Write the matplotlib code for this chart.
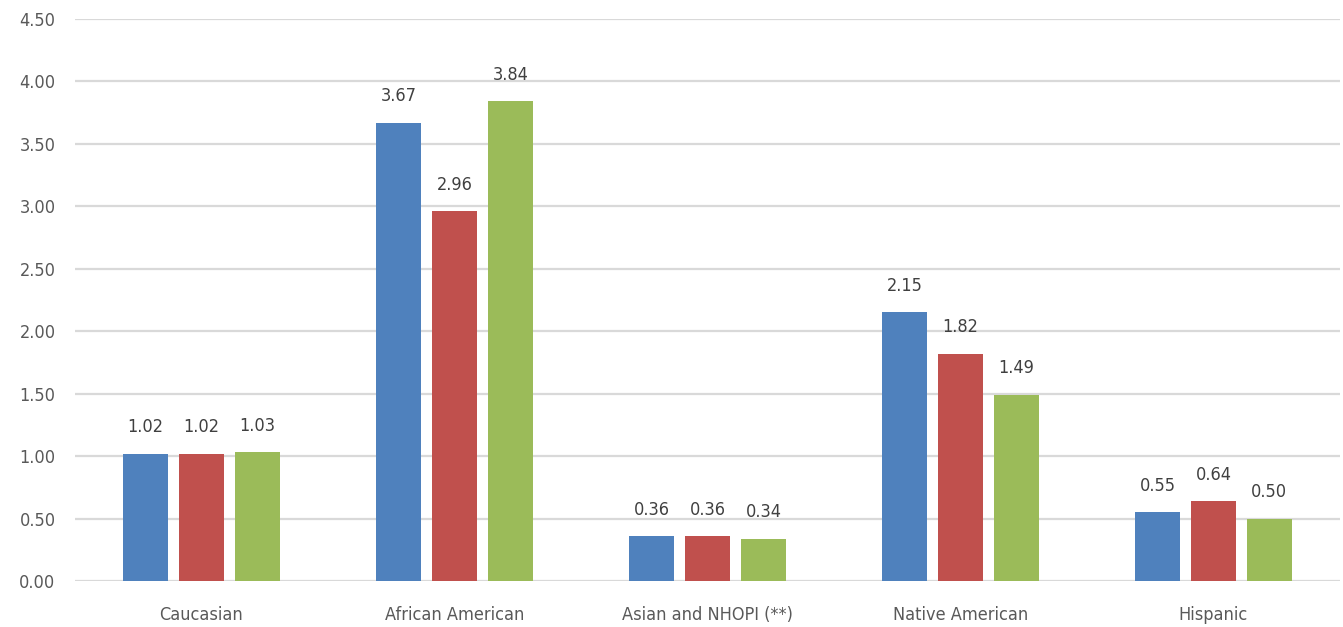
import numpy as np
import matplotlib.pyplot as plt

# Rates by group, three series each
groups = ['Caucasian', 'African American', 'Asian and NHOPI (**)', 'Native American', 'Hispanic']
series_a = [1.02, 3.67, 0.36, 2.15, 0.55]
series_b = [1.02, 2.96, 0.36, 1.82, 0.64]
series_c = [1.03, 3.84, 0.34, 1.49, 0.50]
colors = ['#4F81BD', '#C0504D', '#9BBB59']

plt.rcParams['font.family'] = ['DejaVu Sans']
plt.rcParams['font.stretch'] = 'condensed'

fig = plt.figure(figsize=(13.43, 6.27), dpi=100)
ax = fig.add_axes([75 / 1343, 1 - 581 / 627, 1265 / 1343, 562 / 627])

x = np.arange(len(groups))
width = 0.178
step = 0.221
for i, (vals, col) in enumerate(zip([series_a, series_b, series_c], colors)):
    pos = x + (i - 1) * step
    ax.bar(pos, vals, width, color=col, zorder=3)
    for px, v in zip(pos, vals):
        ax.text(px, v + 0.14, f'{v:.2f}', ha='center', va='bottom',
                fontsize=13, color='#404040')

ax.set_xlim(-0.5, len(groups) - 0.5)
ax.set_ylim(0, 4.5)
ax.set_yticks(np.arange(0, 4.51, 0.5))
ax.set_yticklabels([f'{t:.2f}' for t in np.arange(0, 4.51, 0.5)])
ax.set_xticks(x)
ax.set_xticklabels(groups)
ax.tick_params(axis='both', length=0, labelsize=13, labelcolor='#595959')
ax.tick_params(axis='y', pad=14)
ax.tick_params(axis='x', pad=18)
ax.grid(axis='y', color='#D9D9D9', linewidth=1.6, zorder=0)
for s in ax.spines.values():
    s.set_visible(False)

fig.savefig('out.png', dpi=100)
